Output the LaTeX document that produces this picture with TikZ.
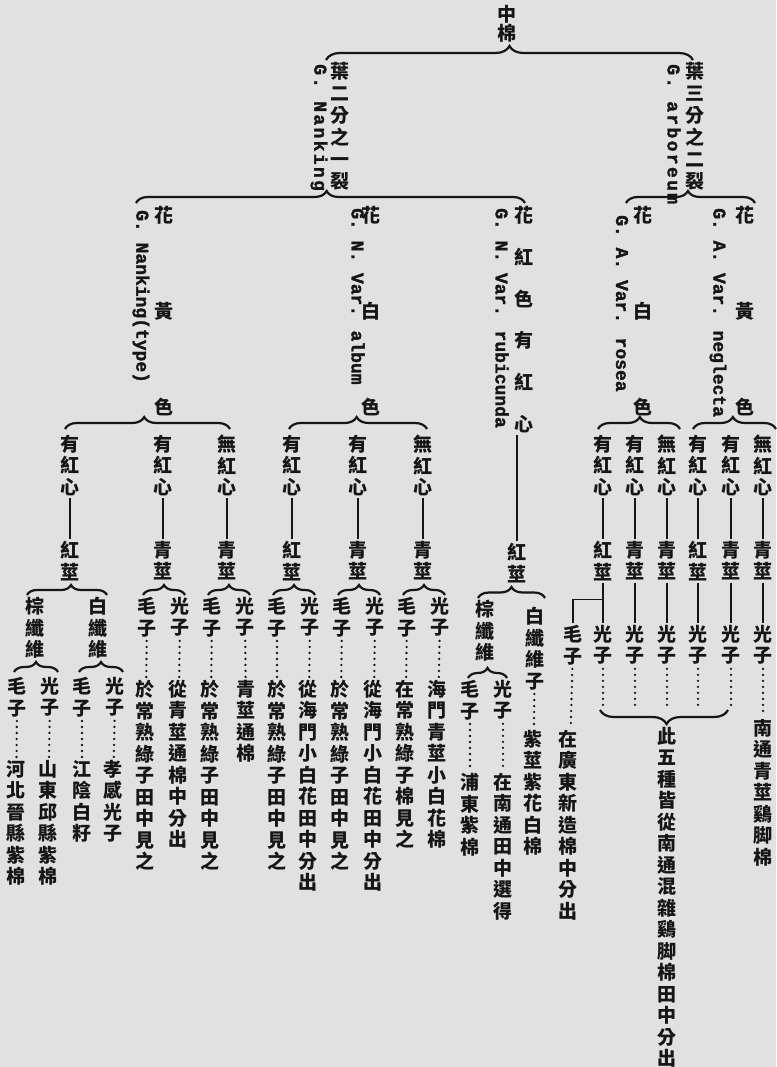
\documentclass[tikz,border=0pt]{standalone}
\usepackage{fontspec}
\newfontfamily\cjk{Noto Sans CJK TC}
\newfontfamily\latn[FakeBold=1.6]{Liberation Mono}
\usetikzlibrary{decorations.pathreplacing}
\definecolor{paper}{RGB}{224,225,224}
\definecolor{ink}{RGB}{22,22,22}
\makeatletter
\newcommand\vt[2][21.5pt]{\vbox{\baselineskip=#1\lineskiplimit=-40pt\lineskip=0pt\@tfor\vt@ch:=#2\do{\hbox{\vt@ch}}}}
\makeatother
\tikzset{
	cn/.style={inner sep=0pt, anchor=north, text=ink, font=\cjk\bfseries\fontsize{19}{21.5}\selectfont},
	lat/.style={inner sep=0pt, anchor=west, rotate=-90, text=ink, font=\latn\bfseries\fontsize{18}{20}\selectfont},
	latw/.style={lat, font=\latn\bfseries\fontsize{18}{20}\selectfont\addfontfeature{LetterSpace=13}},
	br/.style={decorate, decoration={brace, amplitude=#1}, line width=2.2pt, draw=ink},
	br/.default=12pt,
	stem/.style={line width=1.5pt, draw=ink, shorten <=2pt, shorten >=2pt},
	lead/.style={line width=2.6pt, draw=ink, line cap=round, dash pattern=on 0pt off 6pt, shorten <=4pt, shorten >=3pt}
}
\begin{document}
\begin{tikzpicture}[x=1pt, y=-1pt]
	\fill[paper] (0,0) rectangle (776,1067);
	\useasboundingbox (0,0) rectangle (776,1067);
	\node[cn] (root) at (507,5) {\vt[19.5pt]{中棉}};
	\node[cn] (na) at (340,62) {\vt[22pt]{葉二分之一裂}};
	\node[latw] (naL) at (319,64) {G. Nanking};
	\node[cn] (ar) at (695,62) {\vt[22pt]{葉三分之二裂}};
	\node[latw] (arL) at (674,64) {G. arboreum};
	\draw[br=14pt, decoration={raise=2pt}] ([xshift=-14pt]na.north) -- ([xshift=-2pt]ar.north);
	\node[cn] (na1) at (164,206) {\vt[96pt]{花黃色}};
	\node[lat] (na1L) at (141,210) {G. Nanking(type)};
	\node[cn] (na2) at (371,206) {\vt[96pt]{花白色}};
	\node[lat] (na2L) at (358,208) {G. N. Var. album};
	\node[cn] (na3) at (524,206) {\vt[41.8pt]{花紅色有紅心}};
	\node[lat] (na3L) at (502,208) {G. N. Var. rubicunda};
	\draw[br, decoration={raise=3pt, aspect=0.49}] ([xshift=-28pt]na1.north) -- ([xshift=1pt]na3.north);
	\node[cn] (ar1) at (643,206) {\vt[96pt]{花白色}};
	\node[lat] (ar1L) at (622,215) {G. A. Var. rosea};
	\node[cn] (ar2) at (745,206) {\vt[96pt]{花黃色}};
	\node[lat] (ar2L) at (718,208) {G. A. Var. neglecta};
	\draw[br, decoration={raise=3pt, aspect=0.48}] ([xshift=-17pt]ar1.north) -- ([xshift=10pt]ar2.north);
	\node[cn] (na1a) at (70,435) {\vt{有紅心}};
	\node[cn] (na1b) at (163,435) {\vt{有紅心}};
	\node[cn] (na1c) at (227,435) {\vt{無紅心}};
	\draw[br, decoration={raise=6pt, aspect=0.48}] ([xshift=-5pt]na1a.north) -- ([xshift=3pt]na1c.north);
	\node[cn] (na1as) at (70,541) {\vt{紅莖}};
	\node[cn] (na1bs) at (163,541) {\vt{青莖}};
	\node[cn] (na1cs) at (227,541) {\vt{青莖}};
	\draw[stem] (na1a) -- (na1as);
	\draw[stem] (na1b) -- (na1bs);
	\draw[stem] (na1c) -- (na1cs);
	\node[cn] (na1ab) at (35,597) {\vt{棕纖維}};
	\node[cn] (na1aw) at (98,597) {\vt{白纖維}};
	\draw[br=10pt, decoration={raise=2pt, aspect=0.55}] ([xshift=-8pt]na1ab.north) -- ([xshift=9pt]na1aw.north);
	\node[cn] (m1) at (17,677) {\vt{毛子}};
	\node[cn] (g1) at (50,677) {\vt{光子}};
	\draw[br=10pt, decoration={raise=5pt}] ([xshift=-3pt]m1.north) -- ([xshift=8pt]g1.north);
	\node[cn] (m2) at (82,677) {\vt{毛子}};
	\node[cn] (g2) at (115,677) {\vt{光子}};
	\draw[br=10pt, decoration={raise=5pt}] ([xshift=-3pt]m2.north) -- ([xshift=8pt]g2.north);
	\node[cn] (t1) at (16,760) {\vt{河北晉縣紫棉}};
	\node[cn] (t2) at (48,760) {\vt{山東邱縣紫棉}};
	\node[cn] (t3) at (82,760) {\vt{江陰白籽}};
	\node[cn] (t4) at (113,760) {\vt{孝感光子}};
	\draw[lead] (m1) -- (t1);
	\draw[lead] (g1) -- (t2);
	\draw[lead] (m2) -- (t3);
	\draw[lead] (g2) -- (t4);
	\node[cn] (m3) at (147,597) {\vt{毛子}};
	\node[cn] (g3) at (180,597) {\vt{光子}};
	\draw[br=10pt, decoration={raise=2pt}] ([xshift=-4pt]m3.north) -- ([xshift=5pt]g3.north);
	\node[cn] (t5) at (145,680) {\vt{於常熟綠子田中見之}};
	\node[cn] (t6) at (178,680) {\vt{從青莖通棉中分出}};
	\draw[lead] (m3) -- (t5);
	\draw[lead] (g3) -- (t6);
	\node[cn] (m4) at (212,597) {\vt{毛子}};
	\node[cn] (g4) at (245,597) {\vt{光子}};
	\draw[br=10pt, decoration={raise=2pt}] ([xshift=-4pt]m4.north) -- ([xshift=5pt]g4.north);
	\node[cn] (t7) at (210,680) {\vt{於常熟綠子田中見之}};
	\node[cn] (t8) at (246,680) {\vt{青莖通棉}};
	\draw[lead] (m4) -- (t7);
	\draw[lead] (g4) -- (t8);
	\node[cn] (na2a) at (292,435) {\vt{有紅心}};
	\node[cn] (na2b) at (358,435) {\vt{有紅心}};
	\node[cn] (na2c) at (423,435) {\vt{無紅心}};
	\draw[br, decoration={raise=6pt, aspect=0.49}] ([xshift=-3pt]na2a.north) -- ([xshift=4pt]na2c.north);
	\node[cn] (na2as) at (292,541) {\vt{紅莖}};
	\node[cn] (na2bs) at (358,541) {\vt{青莖}};
	\node[cn] (na2cs) at (423,541) {\vt{青莖}};
	\draw[stem] (na2a) -- (na2as);
	\draw[stem] (na2b) -- (na2bs);
	\draw[stem] (na2c) -- (na2cs);
	\node[cn] (m5) at (277,597) {\vt{毛子}};
	\node[cn] (g5) at (310,597) {\vt{光子}};
	\draw[br=10pt, decoration={raise=2pt}] ([xshift=-4pt]m5.north) -- ([xshift=5pt]g5.north);
	\node[cn] (m6) at (342,597) {\vt{毛子}};
	\node[cn] (g6) at (375,597) {\vt{光子}};
	\draw[br=10pt, decoration={raise=2pt}] ([xshift=-4pt]m6.north) -- ([xshift=5pt]g6.north);
	\node[cn] (m7) at (407,597) {\vt{毛子}};
	\node[cn] (g7) at (440,597) {\vt{光子}};
	\draw[br=10pt, decoration={raise=2pt}] ([xshift=-4pt]m7.north) -- ([xshift=5pt]g7.north);
	\node[cn] (t9) at (277,680) {\vt{於常熟綠子田中見之}};
	\node[cn] (t10) at (308,680) {\vt{從海門小白花田中分出}};
	\node[cn] (t11) at (340,680) {\vt{於常熟綠子田中見之}};
	\node[cn] (t12) at (373,680) {\vt{從海門小白花田中分出}};
	\node[cn] (t13) at (405,680) {\vt{在常熟綠子棉見之}};
	\node[cn] (t14) at (437,680) {\vt{海門青莖小白花棉}};
	\draw[lead] (m5) -- (t9);
	\draw[lead] (g5) -- (t10);
	\draw[lead] (m6) -- (t11);
	\draw[lead] (g6) -- (t12);
	\draw[lead] (m7) -- (t13);
	\draw[lead] (g7) -- (t14);
	\node[cn] (na3s) at (517,543) {\vt{紅莖}};
	\draw[stem] (na3s.north) -- (na3s.north |- na3.south);
	\node[cn] (na3b) at (485,600) {\vt{棕纖維}};
	\node[cn] (na3w) at (535,607) {\vt{白纖維子}};
	\draw[br=11pt, decoration={raise=2pt}] ([xshift=-7pt]na3b.north) -- ([xshift=60pt]na3b.north);
	\node[cn] (m8) at (470,680) {\vt{毛子}};
	\node[cn] (g8) at (503,680) {\vt{光子}};
	\draw[br=10pt, decoration={raise=2pt}] ([xshift=-2pt]m8.north) -- ([xshift=4pt]g8.north);
	\node[cn] (t15) at (470,773) {\vt{浦東紫棉}};
	\node[cn] (t16) at (503,773) {\vt{在南通田中選得}};
	\node[cn] (t17) at (533,730) {\vt{紫莖紫花白棉}};
	\draw[lead] (m8) -- (t15);
	\draw[lead] (g8) -- (t16);
	\draw[lead] (na3w) -- (t17);
	\node[cn] (ar1a) at (603,435) {\vt{有紅心}};
	\node[cn] (ar1b) at (635,435) {\vt{有紅心}};
	\node[cn] (ar1c) at (667,435) {\vt{無紅心}};
	\draw[br, decoration={raise=6pt, aspect=0.51}] ([xshift=-5pt]ar1a.north) -- ([xshift=13pt]ar1c.north);
	\node[cn] (ar1as) at (603,541) {\vt{紅莖}};
	\node[cn] (ar1bs) at (635,541) {\vt{青莖}};
	\node[cn] (ar1cs) at (667,541) {\vt{青莖}};
	\draw[stem] (ar1a) -- (ar1as);
	\draw[stem] (ar1b) -- (ar1bs);
	\draw[stem] (ar1c) -- (ar1cs);
	\node[cn] (m9) at (573,625) {\vt{毛子}};
	\node[cn] (g9) at (603,625) {\vt{光子}};
	\node[cn] (g10) at (635,625) {\vt{光子}};
	\node[cn] (g11) at (667,625) {\vt{光子}};
	\draw[stem] (ar1as) -- (g9);
	\draw[stem] (ar1bs) -- (g10);
	\draw[stem] (ar1cs) -- (g11);
	\path (ar1as.south) -- (g9.north) coordinate[pos=0.42] (ar1aj);
	\draw[stem, shorten >=0pt] (m9.north) |- (ar1aj);
	\node[cn] (t18) at (568,730) {\vt{在廣東新造棉中分出}};
	\draw[lead] (m9) -- (t18);
	\node[cn] (ar2a) at (698,435) {\vt{有紅心}};
	\node[cn] (ar2b) at (731,435) {\vt{有紅心}};
	\node[cn] (ar2c) at (763,435) {\vt{無紅心}};
	\draw[br, decoration={raise=6pt, aspect=0.48}] ([xshift=-5pt]ar2a.north) -- ([xshift=13pt]ar2c.north);
	\node[cn] (ar2as) at (698,541) {\vt{紅莖}};
	\node[cn] (ar2bs) at (731,541) {\vt{青莖}};
	\node[cn] (ar2cs) at (763,541) {\vt{青莖}};
	\draw[stem] (ar2a) -- (ar2as);
	\draw[stem] (ar2b) -- (ar2bs);
	\draw[stem] (ar2c) -- (ar2cs);
	\node[cn] (g12) at (698,625) {\vt{光子}};
	\node[cn] (g13) at (731,625) {\vt{光子}};
	\node[cn] (g14) at (763,625) {\vt{光子}};
	\draw[stem] (ar2as) -- (g12);
	\draw[stem] (ar2bs) -- (g13);
	\draw[stem] (ar2cs) -- (g14);
	\node[cn] (t20) at (763,719) {\vt{南通青莖鷄脚棉}};
	\draw[lead] (g14) -- (t20);
	\coordinate (fiveL) at (600,710);
	\coordinate (fiveR) at (728,710);
	\draw[lead, shorten >=0pt] (g9.south) -- (g9.south |- fiveL);
	\draw[lead, shorten >=0pt] (g10.south) -- (g10.south |- fiveL);
	\draw[lead, shorten >=0pt] (g11.south) -- (g11.south |- fiveL);
	\draw[lead, shorten >=0pt] (g12.south) -- (g12.south |- fiveL);
	\draw[lead, shorten >=0pt] (g13.south) -- (g13.south |- fiveL);
	\draw[br=14pt, decoration={aspect=0.48}] (fiveR) -- (fiveL);
	\node[cn] (t19) at (667,727) {\vt{此五種皆從南通混雜鷄脚棉田中分出}};
\end{tikzpicture}
\end{document}
